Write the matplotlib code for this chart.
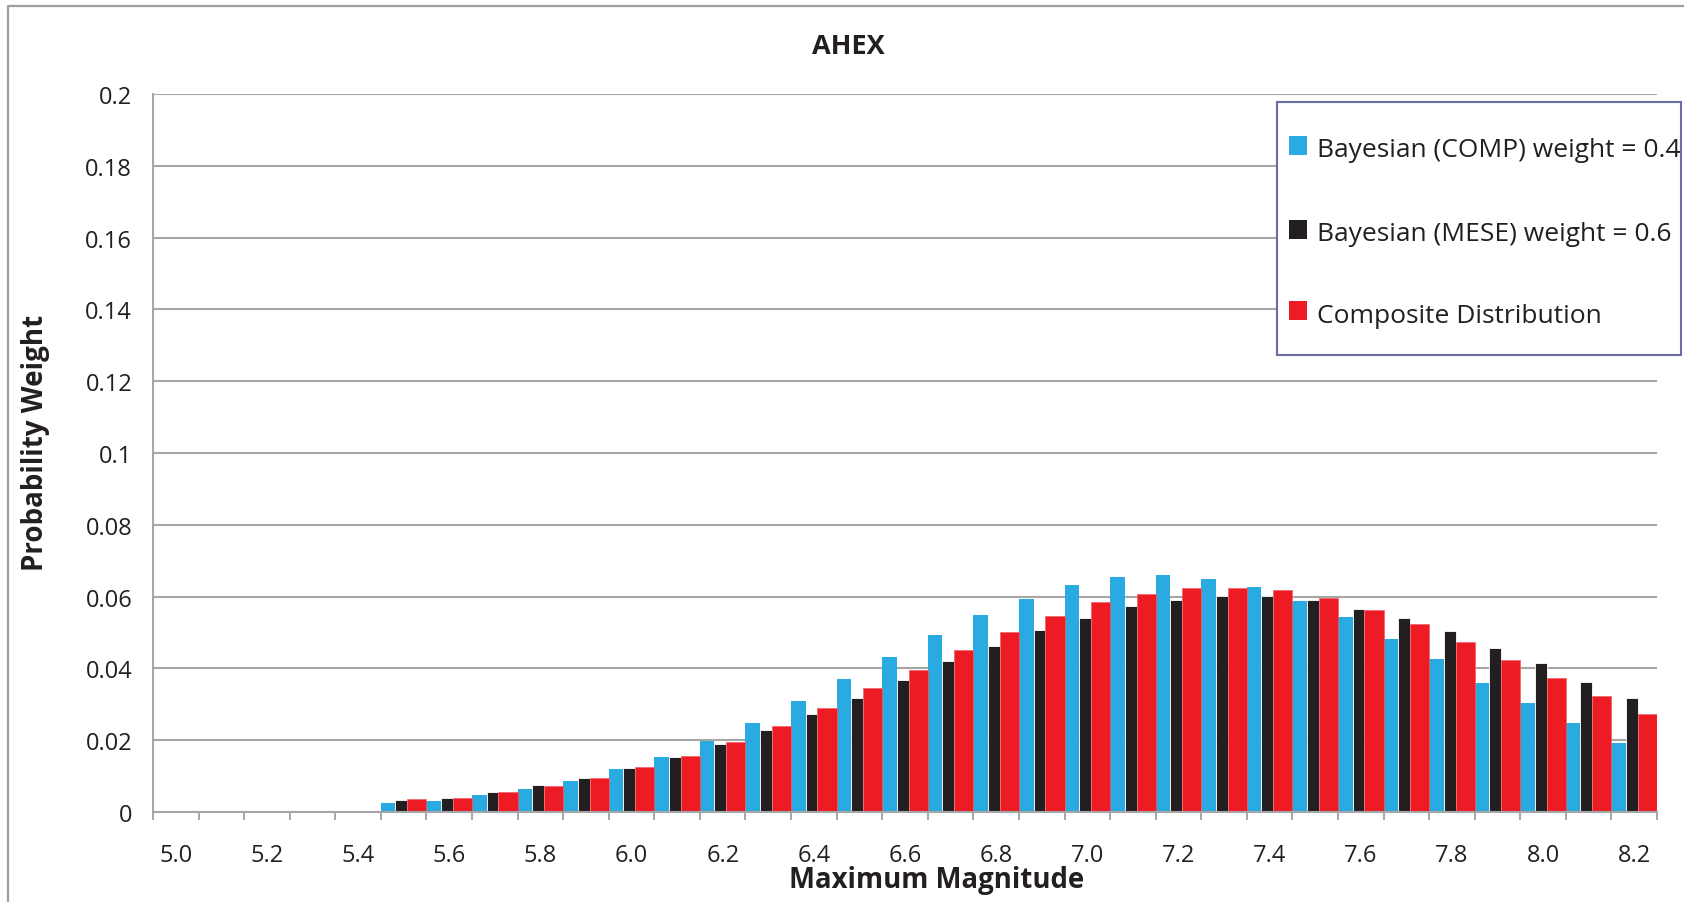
import numpy as np
import matplotlib
matplotlib.use("Agg")
import matplotlib.pyplot as plt
from matplotlib.patches import Rectangle
from matplotlib.lines import Line2D

plt.rcParams['font.family'] = ['Open Sans', 'DejaVu Sans']

# Maximum magnitude bins (5.0 ... 8.2, step 0.1)
magnitudes = [f"{5.0 + 0.1 * i:.1f}" for i in range(33)]

comp_weights = [0, 0, 0, 0, 0,
                0.0024, 0.0030, 0.0047, 0.0063, 0.0085,
                0.0119, 0.0152, 0.0197, 0.0247, 0.0308,
                0.0370, 0.0431, 0.0492, 0.0548, 0.0593,
                0.0632, 0.0654, 0.0659, 0.0648, 0.0626,
                0.0587, 0.0542, 0.0481, 0.0425, 0.0358,
                0.0303, 0.0247, 0.0191]

mese_weights = [0, 0, 0, 0, 0,
                0.0033, 0.0038, 0.0055, 0.0074, 0.0094,
                0.0122, 0.0152, 0.0189, 0.0228, 0.0272,
                0.0317, 0.0367, 0.0420, 0.0462, 0.0506,
                0.0540, 0.0573, 0.0590, 0.0601, 0.0601,
                0.0590, 0.0565, 0.0540, 0.0503, 0.0456,
                0.0414, 0.0361, 0.0317]

composite_weights = [0, 0, 0, 0, 0,
                     0.0035, 0.0040, 0.0057, 0.0072, 0.0096,
                     0.0124, 0.0157, 0.0194, 0.0240, 0.0289,
                     0.0346, 0.0396, 0.0451, 0.0501, 0.0546,
                     0.0585, 0.0607, 0.0624, 0.0624, 0.0618,
                     0.0595, 0.0563, 0.0524, 0.0473, 0.0423,
                     0.0373, 0.0323, 0.0273]

y_ticks = [0, 0.02, 0.04, 0.06, 0.08, 0.1, 0.12, 0.14, 0.16, 0.18, 0.2]
y_tick_labels = ["0", "0.02", "0.04", "0.06", "0.08", "0.1", "0.12",
                 "0.14", "0.16", "0.18", "0.2"]

series_labels = ["Bayesian (COMP) weight = 0.4",
                 "Bayesian (MESE) weight = 0.6",
                 "Composite Distribution"]
colors = ["#29ABE2", "#231F20", "#ED1C24"]

W, H = 1684, 903
fig = plt.figure(figsize=(W / 100, H / 100), dpi=100)
ax = fig.add_axes([153 / W, 1 - 813 / H, (1657 - 153) / W, (813 - 95) / H])

x = np.arange(len(magnitudes))
left = x - 0.5
# bar slots inside each bin: cyan, black, red
ax.bar(left, comp_weights, width=0.32, align='edge', color=colors[0],
       linewidth=0, zorder=3)
ax.bar(left + 0.32, mese_weights, width=0.26, align='edge', color=colors[1],
       edgecolor='white', linewidth=0.6, zorder=3)
ax.bar(left + 0.58, composite_weights, width=0.42, align='edge',
       color=colors[2], edgecolor='#F06068', linewidth=0.5, zorder=4)

text_color = '#231F20'
grid_color = '#A6A6A6'
ax.set_xlim(-0.5, len(magnitudes) - 0.5)
ax.set_ylim(0, 0.2)
ax.set_yticks(y_ticks)
ax.set_yticklabels(y_tick_labels, fontsize=17, color=text_color)
ax.tick_params(axis='y', length=0, pad=15)

ax.set_xticks(x[::2])
ax.set_xticklabels(magnitudes[::2], fontsize=17, color=text_color)
ax.set_xticks(np.arange(len(magnitudes) + 1) - 0.5, minor=True)
ax.tick_params(axis='x', which='major', length=0, pad=22)
ax.tick_params(axis='x', which='minor', length=6, width=1.4, color=grid_color,
               direction='out')

ax.yaxis.grid(True, color=grid_color, linewidth=1.5, zorder=0)
ax.set_axisbelow(True)
for side in ['top', 'right']:
    ax.spines[side].set_visible(False)
for side in ['left', 'bottom']:
    ax.spines[side].set_color(grid_color)
    ax.spines[side].set_linewidth(1.5)
ax.spines['bottom'].set_zorder(5)

# titles
fig.text(848 / W, 1 - 54 / H, "AHEX", ha='center', va='baseline',
         fontsize=19.5, fontweight='bold', color=text_color)
fig.text(937 / W, 1 - 881 / H, "Maximum Magnitude", ha='center', va='center',
         fontsize=19.8, fontweight='bold', color=text_color)
fig.text(36 / W, 1 - 443 / H, "Probability Weight", ha='center', va='center',
         rotation=90, fontsize=20, fontweight='bold', color=text_color)

# chart frame
fig.add_artist(Line2D([7.5 / W, 7.5 / W, 1.0], [0.0, 1 - 6.5 / H, 1 - 6.5 / H],
                      transform=fig.transFigure, color='#9E9E9E',
                      linewidth=1.6))

# legend box
fig.add_artist(Rectangle((1277 / W, 1 - 356 / H), (1681 - 1277) / W,
                         (356 - 103) / H, transform=fig.transFigure,
                         facecolor='white', edgecolor='#6D6DA6',
                         linewidth=1.5, zorder=10))
swatch_centers = [146, 230, 311]
baselines = [157, 241, 323]
for lab, col, yc, yb in zip(series_labels, colors, swatch_centers, baselines):
    fig.add_artist(Rectangle((1289 / W, 1 - (yc + 9.5) / H), 18 / W, 19 / H,
                             transform=fig.transFigure, facecolor=col,
                             edgecolor='none', zorder=11))
    fig.text(1317 / W, 1 - yb / H, lab, ha='left', va='baseline',
             fontsize=19, color=text_color, zorder=12)

fig.savefig("out.png", dpi=100)
